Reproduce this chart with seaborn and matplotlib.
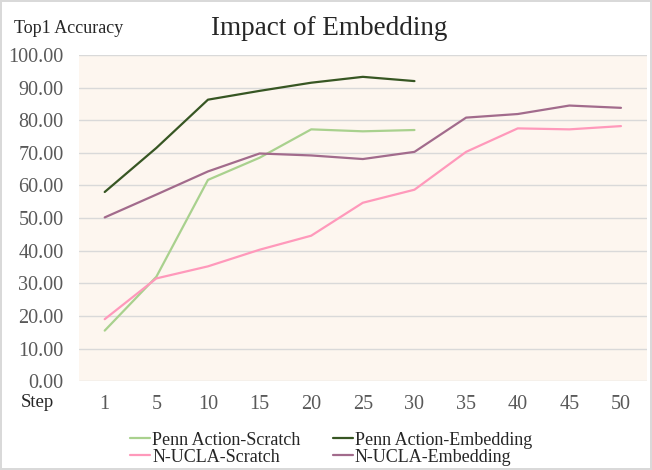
import pandas as pd
import matplotlib.pyplot as plt
import seaborn as sns

steps = ["1", "5", "10", "15", "20", "25", "30", "35", "40", "45", "50"]
penn_scratch = [15.5, 32.0, 61.7, 68.5, 77.2, 76.6, 77.0]
penn_embedding = [58.0, 71.5, 86.3, 89.0, 91.5, 93.3, 92.0]
ucla_scratch = [19.0, 31.5, 35.2, 40.3, 44.6, 54.7, 58.7, 70.3, 77.5, 77.2, 78.2]
ucla_embedding = [50.2, 57.2, 64.3, 69.8, 69.2, 68.1, 70.3, 80.8, 81.9, 84.5, 83.8]

series_names = ["Penn Action-Scratch", "Penn Action-Embedding", "N-UCLA-Scratch", "N-UCLA-Embedding"]
series_values = [penn_scratch, penn_embedding, ucla_scratch, ucla_embedding]
colors = ["#A9D18E", "#375623", "#FF99BB", "#A26B8C"]

rows = []
for name, vals in zip(series_names, series_values):
    for i, v in enumerate(vals):
        rows.append({"pos": i, "Step": steps[i], "acc": v, "series": name})
df = pd.DataFrame(rows)

sns.set_style("white")
plt.rcParams["font.family"] = ["Liberation Serif", "DejaVu Serif"]

fig = plt.figure(figsize=(6.52, 4.70), dpi=100)
fig.patch.set_edgecolor("#D9D9D9")
fig.patch.set_linewidth(1.5)
ax = fig.add_axes([0.121, 0.189, 0.871, 0.694])
ax.set_facecolor("#FDF6EF")

sns.lineplot(data=df, x="pos", y="acc", hue="series", hue_order=series_names,
             palette=colors, linewidth=1.6, ax=ax, legend=True)

ax.set_xlim(-0.5, len(steps) - 0.5)
ax.set_ylim(0, 100)
ax.set_xticks(range(len(steps)))
ax.set_xticklabels(steps)
ax.set_yticks(range(0, 101, 10))
ax.set_yticklabels([f"{v:.2f}" for v in range(0, 101, 10)])
ax.tick_params(axis="both", labelsize=14.5, labelcolor="#595959", length=0)
ax.tick_params(axis="y", pad=11)
ax.tick_params(axis="x", pad=10)
ax.yaxis.grid(True, color="#D9D9D9", linewidth=1)
ax.set_axisbelow(True)
for s in ax.spines.values():
    s.set_visible(False)
ax.set_xlabel("")
ax.set_ylabel("")

fig.text(0.505, 0.94, "Impact of Embedding", ha="center", va="center", fontsize=19.5)
fig.text(0.021, 0.94, "Top1 Accuracy", ha="left", va="center", fontsize=13)
fig.text(0.057, 0.144, "Step", ha="center", va="center", fontsize=13.5)

handles, labels = ax.get_legend_handles_labels()
order = [0, 2, 1, 3]
ax.legend([handles[i] for i in order], [labels[i] for i in order], ncol=2, frameon=False,
          fontsize=13, loc="upper center", bbox_to_anchor=(0.508, 0.101),
          bbox_transform=fig.transFigure, borderpad=0,
          handlelength=1.1, handletextpad=0.1, columnspacing=1.8, labelspacing=0.0)

fig.savefig("out.png", dpi=100)
